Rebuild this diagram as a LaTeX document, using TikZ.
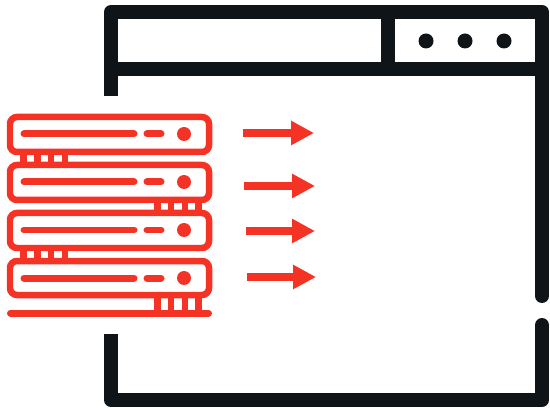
\documentclass[tikz,border=0pt]{standalone}
\usepackage{tikz}
\usetikzlibrary{arrows.meta}
\definecolor{framecol}{HTML}{0E1418}
\definecolor{rackcol}{HTML}{F43325}
\tikzset{
  frame/.style={draw=framecol,line width=0.28cm,line join=round},
  rack/.style={draw=rackcol,line width=0.13cm,rounded corners=0.14cm},
  slot/.style={draw=rackcol,line width=0.14cm,line cap=round},
  foot/.style={draw=rackcol,line width=0.13cm},
  flow/.style={draw=rackcol,line width=0.16cm,-{Triangle[length=0.46cm,width=0.46cm]}}
}

\begin{document}
\begin{tikzpicture}[x=0.02cm,y=-0.02cm]
  \useasboundingbox (0,0) rectangle (550,408);
  % window
  \draw[frame] (111,96)--(111,12)--(542,12)--(542,296);
  \draw[frame,line cap=round] (542,285)--(542,296);
  \draw[frame] (111,334)--(111,400)--(542,400)--(542,325);
  \draw[frame,line cap=round] (542,336)--(542,325);
  \draw[frame] (111,69)--(542,69);
  \draw[frame] (388,12)--(388,69);
  \fill[framecol] (426,41) circle (7.5); \fill[framecol] (465,41) circle (7.5); \fill[framecol] (504,41) circle (7.5);
  % server 1
  \draw[rack] (10,117) rectangle (209,152);
  \draw[slot] (24,134)--(134,134); \draw[slot] (147,134)--(161,134);
  \fill[rackcol] (184,134) circle (7);
  \draw[foot] (23.5,152)--(23.5,165) (37.5,152)--(37.5,165) (51,152)--(51,165) (65,152)--(65,165);
  % server 2
  \draw[rack] (10,165) rectangle (209,200);
  \draw[slot] (24,182)--(134,182); \draw[slot] (147,182)--(161,182);
  \fill[rackcol] (184,182) circle (7);
  \draw[foot] (157.5,200)--(157.5,213) (171,200)--(171,213) (185,200)--(185,213) (198.5,200)--(198.5,213);
  % server 3
  \draw[rack] (10,213) rectangle (209,248);
  \draw[slot] (24,230)--(134,230); \draw[slot] (147,230)--(161,230);
  \fill[rackcol] (184,230) circle (7);
  \draw[foot] (23.5,248)--(23.5,261) (37.5,248)--(37.5,261) (51,248)--(51,261) (65,248)--(65,261);
  % server 4
  \draw[rack] (10,261) rectangle (209,295);
  \draw[slot] (24,278)--(134,278); \draw[slot] (147,278)--(161,278);
  \fill[rackcol] (184,278) circle (7);
  \draw[foot] (157.5,295)--(157.5,313) (171,295)--(171,313) (185,295)--(185,313) (198.5,295)--(198.5,313);
  \draw[slot] (10.5,313)--(208.5,313);
  % arrows
  \coordinate (tail1) at (243,133); \coordinate (head1) at (314,133);
  \coordinate (tail2) at (244,186); \coordinate (head2) at (315,186);
  \coordinate (tail3) at (246,231); \coordinate (head3) at (315,231);
  \coordinate (tail4) at (247,277); \coordinate (head4) at (316,277);
  \draw[flow] (tail1)--(head1);
  \draw[flow] (tail2)--(head2);
  \draw[flow] (tail3)--(head3);
  \draw[flow] (tail4)--(head4);
\end{tikzpicture}
\end{document}
